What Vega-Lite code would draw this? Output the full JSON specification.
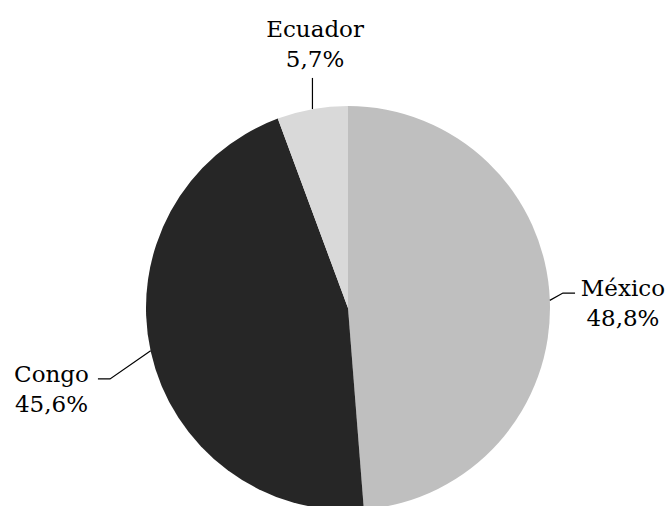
{
  "$schema": "https://vega.github.io/schema/vega-lite/v6.json",
  "width": 672,
  "height": 506,
  "padding": 0,
  "autosize": {"type": "none"},
  "background": "white",
  "config": {"view": {"stroke": null}},
  "datasets": {
    "slices": [
      {"pais": "México", "pct": 48.75, "ord": 1, "cx": 0, "cy": 0, "label": "México\n48,8%", "lx": 1.361, "ly": 0.059},
      {"pais": "Congo", "pct": 45.6, "ord": 2, "cx": 0, "cy": 0, "label": "Congo\n45,6%", "lx": -1.468, "ly": -0.366},
      {"pais": "Ecuador", "pct": 5.65, "ord": 3, "cx": 0, "cy": 0, "label": "Ecuador\n5,7%", "lx": -0.163, "ly": 1.342}
    ],
    "leaders": [
      {"pais": "México", "step": 1, "x": 0.999, "y": 0.038},
      {"pais": "México", "step": 2, "x": 1.064, "y": 0.074},
      {"pais": "México", "step": 3, "x": 1.124, "y": 0.074},
      {"pais": "Congo", "step": 1, "x": -0.977, "y": -0.211},
      {"pais": "Congo", "step": 2, "x": -1.178, "y": -0.351},
      {"pais": "Congo", "step": 3, "x": -1.238, "y": -0.351},
      {"pais": "Ecuador", "step": 1, "x": -0.176, "y": 0.985},
      {"pais": "Ecuador", "step": 2, "x": -0.176, "y": 1.139}
    ]
  },
  "layer": [
    {
      "data": {"name": "slices"},
      "mark": {"type": "arc", "outerRadius": 202},
      "encoding": {
        "x": {"field": "cx", "type": "quantitative", "scale": {"domain": [-1.7228, 1.604], "nice": false, "zero": false}, "axis": null},
        "y": {"field": "cy", "type": "quantitative", "scale": {"domain": [-0.980, 1.5248], "nice": false, "zero": false}, "axis": null},
        "theta": {"field": "pct", "type": "quantitative", "stack": true},
        "order": {"field": "ord", "type": "quantitative", "sort": "ascending"},
        "color": {"field": "pais", "type": "nominal", "legend": null,
          "scale": {"domain": ["México", "Congo", "Ecuador"], "range": ["#bfbfbf", "#262626", "#d9d9d9"]}}
      }
    },
    {
      "data": {"name": "leaders"},
      "mark": {"type": "line", "color": "black", "strokeWidth": 1.2},
      "encoding": {
        "x": {"field": "x", "type": "quantitative"},
        "y": {"field": "y", "type": "quantitative"},
        "detail": {"field": "pais"},
        "order": {"field": "step", "type": "quantitative"}
      }
    },
    {
      "data": {"name": "slices"},
      "transform": [{"calculate": "split(datum.label, '\\n')", "as": "lines"}],
      "mark": {"type": "text", "font": "DejaVu Serif", "fontSize": 23, "lineHeight": 30, "baseline": "alphabetic", "align": "center", "color": "black"},
      "encoding": {
        "x": {"field": "lx", "type": "quantitative"},
        "y": {"field": "ly", "type": "quantitative"},
        "text": {"field": "lines"}
      }
    }
  ]
}
